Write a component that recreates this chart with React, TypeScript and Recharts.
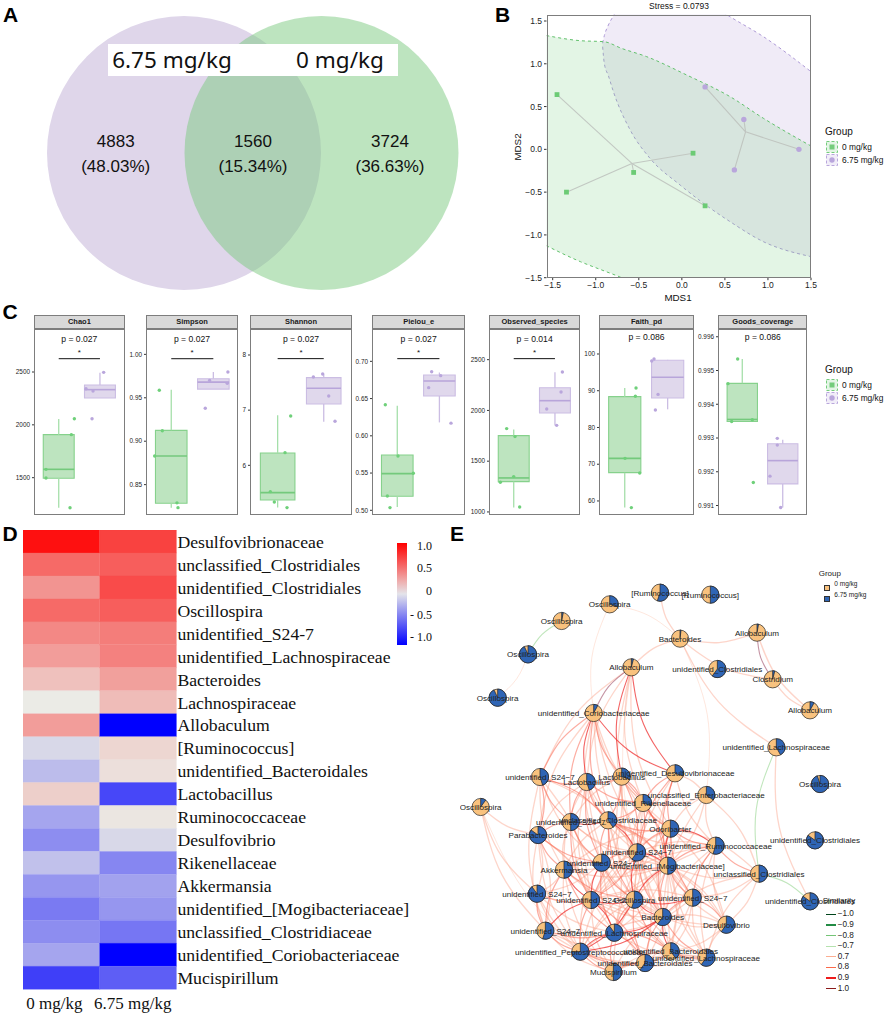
import React from "react";
import {
  ScatterChart, Scatter, ComposedChart, Area, BarChart, Bar, Cell, XAxis, YAxis,
  ReferenceArea, ReferenceLine,
} from "recharts";

const SANS = '"Liberation Sans", Arial, sans-serif';
const SERIF = '"Liberation Serif", serif';
const GREEN = "#74cc7c";
const PURPLE = "#b9a6dc";

/* ---------- A: Venn ---------- */
const vennCircles = [
  { x: 184, y: 153, r: 137, fill: "#dfd6ea", opacity: 1 },
  { x: 321.5, y: 153, r: 137, fill: "#7bc97f", opacity: 0.5 },
];
const vennCounts = ["4883", "1560", "3724"];
const vennShares = ["(48.03%)", "(15.34%)", "(36.63%)"];

/* ---------- B: NMDS ---------- */
const nmdsGroup0 = [
  { x: -1.45, y: 0.64 }, { x: -1.34, y: -0.5 }, { x: -0.56, y: -0.27 }, { x: 0.13, y: -0.045 }, { x: 0.27, y: -0.66 },
];
const nmdsGroup675 = [
  { x: 0.27, y: 0.73 }, { x: 0.72, y: 0.35 }, { x: 1.36, y: 0.0 }, { x: 0.61, y: -0.24 },
];
const centroid0 = { x: -0.58, y: -0.165 };
const centroid675 = { x: 0.74, y: 0.205 };
const ellipse0 = [
  { x: -1.574, band: [-1.126, 1.33] }, { x: -1.18, band: [-1.312, 1.27] }, { x: -0.904, band: [-1.42, 1.258] },
  { x: -0.7, band: [-1.5, 1.18] }, { x: -0.408, band: [-1.65, 1.083] }, { x: 0.056, band: [-1.9, 0.869] },
  { x: 0.56, band: [-2.1, 0.616] }, { x: 0.947, band: [-2.2, 0.363] }, { x: 1.5, band: [-2.4, 0.039] },
];
const ellipse675 = [
  { x: -0.92, band: [1.2, 1.24] }, { x: -0.9, band: [1.0, 1.33] }, { x: -0.853, band: [0.86, 1.453] },
  { x: -0.795, band: [0.674, 1.56] }, { x: -0.6, band: [0.226, 1.85] }, { x: -0.37, band: [-0.105, 1.95] },
  { x: -0.02, band: [-0.417, 1.9] }, { x: 0.25, band: [-0.63, 1.75] }, { x: 0.56, band: [-0.845, 1.55] },
  { x: 0.947, band: [-1.079, 1.317] }, { x: 1.5, band: [-1.254, 0.908] },
];
const nmdsTicks = [-1.5, -1, -0.5, 0, 0.5, 1, 1.5];

/* ---------- C: alpha diversity boxes ---------- */
// box = [lower whisker, q1, median, q3, upper whisker]
const chao1Box0 = [1216, 1494, 1579, 1907, 2055];
const chao1Box1 = [2254, 2254, 2333, 2377, 2494];
const chao1Pts0 = [[1.379, 2058], [1.306, 1907], [0.691, 1579], [0.691, 1497], [1.274, 1216]];
const chao1Pts1 = [[2.09, 2497], [1.662, 2342], [1.832, 2320], [1.808, 2058]];
const simpsonBox0 = [0.8235, 0.8285, 0.883, 0.9125, 0.9593];
const simpsonBox1 = [0.96, 0.96, 0.968, 0.972, 0.9797];
const simpsonPts0 = [[0.716, 0.9586], [0.788, 0.912], [0.606, 0.883], [1.136, 0.829], [1.16, 0.8235]];
const simpsonPts1 = [[2.346, 0.9797], [1.911, 0.97], [2.33, 0.9666], [1.808, 0.938]];
const shannonBox0 = [5.233, 5.372, 5.505, 6.224, 6.906];
const shannonBox1 = [6.79, 7.112, 7.396, 7.589, 7.65];
const shannonPts0 = [[1.283, 6.894], [1.16, 6.23], [0.841, 5.523], [0.928, 5.335], [1.203, 5.233]];
const shannonPts1 = [[1.977, 7.656], [1.775, 7.6], [2.108, 7.257], [2.245, 6.798]];
const pielouBox0 = [0.5045, 0.5188, 0.5492, 0.5743, 0.6405];
const pielouBox1 = [0.618, 0.6535, 0.6736, 0.6817, 0.685];
const pielouPts0 = [[0.716, 0.6418], [1.017, 0.5729], [1.381, 0.5497], [0.764, 0.5192], [0.827, 0.5036]];
const pielouPts1 = [[1.816, 0.686], [2.03, 0.6808], [1.745, 0.6647], [2.275, 0.617]];
const observedBox0 = [1043, 1299, 1335, 1752, 1811];
const observedBox1 = [1853, 1975, 2096, 2224, 2375];
const observedPts0 = [[0.829, 1821], [1.031, 1742], [0.999, 1348], [0.675, 1292], [1.144, 1049]];
const observedPts1 = [[2.18, 2379], [2.148, 2182], [1.8, 2014], [2.042, 1853]];
const faithBox0 = [58.2, 67.7, 71.6, 88.39, 90.75];
const faithBox1 = [84.94, 88.03, 93.65, 98.28, 98.4];
const faithPts0 = [[1.263, 90.75], [1.248, 88.48], [1.007, 71.6], [1.349, 67.6], [1.154, 58.2]];
const faithPts1 = [[1.683, 98.64], [1.629, 98.1], [1.776, 89.0], [1.714, 84.76]];
const goodsBox0 = [0.99349, 0.99349, 0.99355, 0.99462, 0.99534];
const goodsBox1 = [0.99094, 0.99164, 0.99233, 0.99283, 0.99295];
const goodsPts0 = [[0.886, 0.99534], [0.647, 0.99461], [1.248, 0.99354], [0.738, 0.99349], [1.273, 0.99168]];
const goodsPts1 = [[1.866, 0.99299], [1.866, 0.99279], [1.685, 0.99187], [1.949, 0.99094]];

const boxPanels = [
  { title: "Chao1", l: 34, r: 124.7, dom: [1144, 2907], ticks: [1500, 2000, 2500], dec: 0, p: "p = 0.027", star: 2626, b0: chao1Box0, b1: chao1Box1, p0: chao1Pts0, p1: chao1Pts1 },
  { title: "Simpson", l: 145.7, r: 238.3, dom: [0.8147, 1.0292], ticks: [0.85, 0.9, 0.95, 1], dec: 2, p: "p = 0.027", star: 0.995, b0: simpsonBox0, b1: simpsonBox1, p0: simpsonPts0, p1: simpsonPts1 },
  { title: "Shannon", l: 250.3, r: 351.7, dom: [5.094, 8.471], ticks: [6, 7, 8], dec: 0, p: "p = 0.027", star: 7.934, b0: shannonBox0, b1: shannonBox1, p0: shannonPts0, p1: shannonPts1 },
  { title: "Pielou_e", l: 372.3, r: 465, dom: [0.4933, 0.7434], ticks: [0.5, 0.55, 0.6, 0.65, 0.7], dec: 2, p: "p = 0.027", star: 0.7036, b0: pielouBox0, b1: pielouBox1, p0: pielouPts0, p1: pielouPts1 },
  { title: "Observed_species", l: 489.3, r: 580, dom: [967, 2802], ticks: [1000, 1500, 2000, 2500], dec: 0, p: "p = 0.014", star: 2510, b0: observedBox0, b1: observedBox1, p0: observedPts0, p1: observedPts1 },
  { title: "Faith_pd", l: 599.3, r: 693.7, dom: [56.1, 106.8], ticks: [60, 70, 80, 90, 100], dec: 0, p: "p = 0.086", star: null, b0: faithBox0, b1: faithBox1, p0: faithPts0, p1: faithPts1 },
  { title: "Goods_coverage", l: 718.3, r: 807.3, dom: [0.99071, 0.99623], ticks: [0.991, 0.992, 0.993, 0.994, 0.995, 0.996], dec: 3, p: "p = 0.086", star: null, b0: goodsBox0, b1: goodsBox1, p0: goodsPts0, p1: goodsPts1 },
];

/* ---------- D: heatmap ---------- */
const taxa = [
  "Desulfovibrionaceae", "unclassified_Clostridiales", "unidentified_Clostridiales", "Oscillospira",
  "unidentified_S24-7", "unidentified_Lachnospiraceae", "Bacteroides", "Lachnospiraceae", "Allobaculum",
  "[Ruminococcus]", "unidentified_Bacteroidales", "Lactobacillus", "Ruminococcaceae", "Desulfovibrio",
  "Rikenellaceae", "Akkermansia", "unidentified_[Mogibacteriaceae]", "unclassified_Clostridiaceae",
  "unidentified_Coriobacteriaceae", "Mucispirillum",
];
const heat0 = [0.93, 0.55, 0.37, 0.55, 0.42, 0.33, 0.18, 0, 0.33, -0.08, -0.2, 0.12, -0.3, -0.4, -0.18, -0.36, -0.48, -0.4, -0.3, -0.73];
const heat675 = [0.72, 0.6, 0.68, 0.6, 0.47, 0.45, 0.32, 0.2, -1, 0.09, 0.05, -0.7, 0.02, -0.08, -0.43, -0.31, -0.36, -0.5, -1, -0.6];
const heatRows = taxa.map((name) => ({ name, a: 1, b: 1 }));
const heatColumnLabels = ["0 mg/kg", "6.75 mg/kg"];
const heatScaleLabels = ["1.0", "0.5", "0", "- 0.5", "- 1.0"];
const heatColor = (v: number) => {
  const t = Math.abs(v);
  const c = (a: number, b: number) => Math.round(a + (b - a) * t);
  return v >= 0 ? `rgb(${c(235, 255)},${c(235, 0)},${c(230, 0)})` : `rgb(${c(235, 0)},${c(235, 0)},${c(230, 255)})`;
};

/* ---------- E: network ---------- */
// label, x, y, share of the 6.75 mg/kg slice (position in a 1278 x 1368 grid)
const nodes: [string, number, number, number][] = [
  ["[Ruminococcus]", 600, 98, 0.55], ["[Ruminococcus]", 751, 104, 0.5], ["Oscillospira", 449, 133, 0.3],
  ["Oscillospira", 305, 183, 0.03], ["Bacteroides", 660, 236, 0.02], ["Allobaculum", 891, 218, 0.03],
  ["Oscillospira", 204, 283, 0.93], ["Allobaculum", 514, 322, 0.04], ["unidentified_Clostridiales", 772, 327, 0.6],
  ["Clostridium", 938, 358, 0.04], ["Oscillospira", 113, 413, 0.93], ["unidentified_Coriobacteriaceae", 401, 459, 0.08],
  ["Allobaculum", 1050, 451, 0.08], ["unidentified_Lachnospiraceae", 949, 562, 0.42], ["unidentified_S24\u22127", 240, 651, 0.45],
  ["Lactobacillus", 380, 666, 0.45], ["Lactobacillus", 485, 650, 0.3], ["unidentified_Desulfovibrionaceae", 645, 640, 0.3],
  ["unclassified_Enterobacteriaceae", 739, 705, 0.35], ["Oscillospira", 62, 741, 0.1], ["unidentified_Rikenellaceae", 549, 729, 0.3],
  ["unidentified_S24\u22127", 332, 786, 0.5], ["unclassified_Clostridiaceae", 444, 781, 0.4], ["Odoribacter", 631, 806, 0.5],
  ["Parabacteroides", 234, 825, 0.85], ["unidentified_Ruminococcaceae", 767, 857, 0.55], ["unidentified_S24\u22127", 531, 877, 0.6],
  ["unidentified_S24\u22127", 425, 908, 0.75], ["unidentified_[Mogibacteriaceae]", 623, 917, 0.5], ["Akkermansia", 312, 929, 0.5],
  ["unclassified_Clostridiales", 897, 941, 0.5], ["unidentified_S24\u22127", 231, 1001, 0.9], ["unidentified_S24\u22127", 393, 1020, 0.5],
  ["Oscillospira", 523, 1019, 0.55], ["unidentified_S24\u22127", 698, 1013, 0.5], ["Bacteroides", 608, 1071, 0.6],
  ["Desulfovibrio", 799, 1094, 0.6], ["unidentified_S24\u22127", 256, 1112, 0.55], ["unidentified_Lachnospiraceae", 463, 1118, 0.9],
  ["unidentified_Peptostreptococcaceae", 361, 1175, 0.75], ["unidentified_Bacteroidales", 632, 1174, 0.4], ["unidentified_Lachnospiraceae", 739, 1193, 0.6],
  ["unidentified_Bacteroidales", 555, 1209, 0.6], ["Mucispirillum", 460, 1236, 0.5], ["Oscillospira", 1080, 672, 0.95],
  ["unidentified_Clostridiales", 1065, 841, 0.85], ["unidentified_Clostridiales", 1050, 1024, 0.85],
];
// similarity links as "from-to" node numbers (1-based), by strength
const linksStrong = "8-18 12-18 33-34 34-35 28-33 33-39 23-27 27-34 34-36 39-40 40-34 40-36 33-38 30-33 22-23 24-29 29-34 36-41 39-36 27-29 8-17 26-24 12-16";
const linksMid = "15-16 15-22 15-25 16-17 16-21 17-21 16-23 21-23 21-24 21-27 22-25 22-28 23-24 23-28 23-29 24-26 24-27 26-29 26-31 26-35 27-28 25-30 25-28 28-30 28-29 30-38 30-39 30-34 32-33 32-38 33-40 33-43 34-39 34-41 34-43 35-36 35-37 35-29 36-42 36-43 38-40 38-39 39-41 39-43 39-44 40-44 40-43 41-42 41-43 43-44 29-36 27-33 27-36 24-35 24-36 22-33 23-33 23-34 28-34 28-39 15-23 16-22 16-28 17-23 17-27 17-29 18-21 18-24 18-29 18-27 21-29 12-15 12-22 12-23 12-17";
const linksFaint = "12-21 12-24 12-27 12-29 12-28 12-25 8-15 8-16 8-21 8-24 8-27 5-1 5-8 5-6 5-10 5-14 6-13 10-13 14-47 20-25 20-32 20-38 19-26 19-24 19-21 19-29 19-18 19-31 31-37 31-35 31-29 31-24 31-42 31-36 37-42 37-41 37-36 37-29 37-24 26-37 26-36 26-42 32-25 32-30 32-28 32-39 32-40 32-44 38-44 38-43 38-41 38-25 25-33 25-38 25-39 25-40 30-40 30-44 30-36 30-29 30-27 28-36 28-41 28-43 28-40 22-30 22-34 22-27 22-29 22-39 15-30 15-28 15-27 15-33 15-38 16-25 16-27 16-29 16-30 16-33 16-34 17-22 17-24 17-33 17-34 17-36 18-26 18-34 18-36 21-28 21-33 21-34 21-36 23-26 23-30 23-35 23-36 23-39 24-30 24-33 24-34 24-39 24-41 24-42 26-27 26-33 26-34 26-41 27-35 27-37 27-39 27-40 27-41 27-43 29-33 29-37 29-39 29-40 29-41 29-42 29-43 33-35 33-36 33-41 33-44 34-37 34-40 34-42 34-44 35-39 35-41 35-42 35-43 36-40 36-44 36-37 39-42 40-42 41-44 42-43 42-44 19-36";
const linksDark = "8-12 6-10";
const linksNeg = "4-7 14-31 31-47";
const linksPale = "7-11 3-12 3-5 8-36 5-19 20-44";
const similarityLevels = ["\u22121.0", "\u22120.9", "\u22120.8", "\u22120.7", "0.7", "0.8", "0.9", "1.0"];
const similarityColors = ["#00441b", "#238b45", "#74c476", "#b5e2ae", "#fcae91", "#fb6a4a", "#ee1c1c", "#8b1a1a"];

const linkPoints = (pair: string) => {
  const [a, b] = pair.split("-").map(Number);
  const A = nodes[a - 1];
  const B = nodes[b - 1];
  const bend = (a * b) % 2 === 0 ? 0.09 : -0.09;
  const mid = { x: (A[1] + B[1]) / 2 - (B[2] - A[2]) * bend, y: (A[2] + B[2]) / 2 + (B[1] - A[1]) * bend };
  return [{ x: A[1], y: A[2] }, mid, { x: B[1], y: B[2] }];
};
const linkGroups = [
  { pairs: linksPale, stroke: "#fcbba1", w: 1, o: 0.35 },
  { pairs: linksFaint, stroke: "#fb9a80", w: 1.3, o: 0.42 },
  { pairs: linksNeg, stroke: "#a5dc9f", w: 1.1, o: 0.7 },
  { pairs: linksMid, stroke: "#fa6a55", w: 1.2, o: 0.55 },
  { pairs: linksDark, stroke: "#8b2a4a", w: 1.1, o: 0.5 },
  { pairs: linksStrong, stroke: "#ee2a2a", w: 1.1, o: 0.72 },
];

/* ---------- helpers ---------- */
const Txt = ({ x, y, size, children, anchor = "middle", font = SANS, color = "#111", rotate = 0, weight = 400 }: any) => (
  <div
    style={{
      position: "absolute", left: x, top: y, fontSize: size, fontFamily: font, color, fontWeight: weight,
      whiteSpace: "nowrap", lineHeight: 1,
      transform: `translate(${anchor === "middle" ? "-50%" : anchor === "end" ? "-100%" : "0"},-50%) rotate(${rotate}deg)`,
    }}
  >
    {children}
  </div>
);
const Frame = ({ l, t, r, b, bg = "none" }: any) => (
  <div style={{ position: "absolute", left: l, top: t, width: r - l, height: b - t, boxSizing: "border-box", border: "1.2px solid #7d7d7d", background: bg, pointerEvents: "none" }} />
);
const Box = ({ l, t, w, h, children }: any) => (
  <div style={{ position: "absolute", left: l, top: t, width: w, height: h }}>{children}</div>
);
const Dot = (color: string, r = 1.7) => (p: any) => <circle cx={p.cx} cy={p.cy} r={r} fill={color} />;
const Square = (color: string, s = 2.4) => (p: any) => <rect x={p.cx - s} y={p.cy - s} width={2 * s} height={2 * s} fill={color} />;
const NoMark = () => <g />;
const minusFmt = (d: number) => (v: number) => v.toFixed(d).replace("-", "\u2212");

const PieNode = (p: any) => {
  const f = p.payload.blue;
  const r = 8.6;
  const a = 2 * Math.PI * f;
  const ex = p.cx + r * Math.sin(a);
  const ey = p.cy - r * Math.cos(a);
  const big = f > 0.5 ? 1 : 0;
  return (
    <g stroke="#222" strokeWidth={0.7}>
      <circle cx={p.cx} cy={p.cy} r={r} fill="#f9c27e" />
      <path d={`M${p.cx},${p.cy}L${p.cx},${p.cy - r}A${r},${r} 0 ${big} 1 ${ex},${ey}Z`} fill="#2f65b5" />
    </g>
  );
};
const NodeLabel = (p: any) => (
  <text x={p.cx} y={p.cy} dy={3} textAnchor="middle" fontSize={8.1} fontFamily={SANS} fill="#222">
    {p.payload.label}
  </text>
);
const VennCircle = (p: any) => (
  <circle cx={p.cx} cy={p.cy} r={p.payload.r} fill={p.payload.fill} fillOpacity={p.payload.opacity} />
);

const LegendKey = ({ x, y, color, square }: any) => (
  <svg style={{ position: "absolute", left: x, top: y }} width={12} height={12}>
    <rect x={0.5} y={0.5} width={11} height={11} fill={color} fillOpacity={0.2} stroke={color} strokeDasharray="3 2" />
    {square ? <rect x={3.5} y={3.5} width={5} height={5} fill={color} /> : <circle cx={6} cy={6} r={2.7} fill={color} />}
  </svg>
);
const GroupLegend = ({ top }: any) => (
  <>
    <Txt x={825} y={top} size={10} anchor="start">Group</Txt>
    <LegendKey x={826} y={top + 9} color={GREEN} square />
    <LegendKey x={826} y={top + 22} color={PURPLE} />
    <Txt x={842} y={top + 15} size={8.4} anchor="start">0 mg/kg</Txt>
    <Txt x={842} y={top + 27.5} size={8.4} anchor="start">6.75 mg/kg</Txt>
  </>
);

/* ---------- panels ---------- */
const PanelA = () => (
  <Box l={0} t={0} w={490} h={300}>
    <ScatterChart width={490} height={300} margin={{ top: 0, right: 0, bottom: 0, left: 0 }}>
      <XAxis type="number" dataKey="x" domain={[0, 490]} hide />
      <YAxis type="number" dataKey="y" domain={[0, 300]} reversed hide />
      {vennCircles.map((c, i) => (
        <Scatter key={i} data={[c]} shape={VennCircle} isAnimationActive={false} />
      ))}
    </ScatterChart>
  </Box>
);

const PanelB = () => (
  <Box l={500} t={0} w={325} h={300}>
    <ComposedChart width={325} height={300} margin={{ top: 14.5, right: 14, bottom: 0, left: 0 }}>
      <XAxis type="number" dataKey="x" domain={[-1.572, 1.5]} ticks={nmdsTicks} allowDataOverflow
        height={22.3} tickSize={2.5} tickFormatter={minusFmt(1)} axisLine={false} stroke="#333"
        tick={{ fontSize: 8.5, fontFamily: SANS, fill: "#222" }} interval={0} />
      <YAxis type="number" dataKey="y" domain={[-1.5, 1.576]} ticks={nmdsTicks} allowDataOverflow
        width={46.5} tickSize={2.5} tickFormatter={minusFmt(1)} axisLine={false} stroke="#333"
        tick={{ fontSize: 8.5, fontFamily: SANS, fill: "#222" }} interval={0} />
      <Area data={ellipse675} dataKey="band" type="monotone" fill={PURPLE} fillOpacity={0.22} stroke="#ad99d6" strokeDasharray="3 3" strokeWidth={1} dot={false} activeDot={false} isAnimationActive={false} />
      <Area data={ellipse0} dataKey="band" type="monotone" fill={GREEN} fillOpacity={0.2} stroke="#62c06c" strokeDasharray="3 3" strokeWidth={1} dot={false} activeDot={false} isAnimationActive={false} />
      {nmdsGroup0.map((p, i) => (
        <Scatter key={`a${i}`} data={[p, centroid0]} line={{ stroke: "#c2c8c2", strokeWidth: 1.1 }} shape={NoMark} isAnimationActive={false} />
      ))}
      {nmdsGroup675.map((p, i) => (
        <Scatter key={`b${i}`} data={[p, centroid675]} line={{ stroke: "#c0c5c0", strokeWidth: 1.1 }} shape={NoMark} isAnimationActive={false} />
      ))}
      <Scatter data={nmdsGroup0} shape={Square("#6ccb75")} isAnimationActive={false} />
      <Scatter data={nmdsGroup675} shape={Dot(PURPLE, 2.7)} isAnimationActive={false} />
    </ComposedChart>
  </Box>
);

const boxMarks = (key: string, cx: number, box: number[], fill: string, stroke: string, med: string, whisk: string) => {
  const [lo, q1, m, q3, hi] = box;
  return [
    <ReferenceLine key={key + "lo"} segment={[{ x: cx, y: lo }, { x: cx, y: q1 }]} stroke={whisk} strokeWidth={1.3} />,
    <ReferenceLine key={key + "hi"} segment={[{ x: cx, y: q3 }, { x: cx, y: hi }]} stroke={whisk} strokeWidth={1.3} />,
    <ReferenceArea key={key + "bx"} x1={cx - 0.375} x2={cx + 0.375} y1={q1} y2={q3} fill={fill} fillOpacity={1} stroke={stroke} strokeWidth={1.1} />,
    <ReferenceLine key={key + "md"} segment={[{ x: cx - 0.375, y: m }, { x: cx + 0.375, y: m }]} stroke={med} strokeWidth={1.6} />,
  ];
};
const toPts = (rows: number[][]) => rows.map(([x, y]) => ({ x, y }));
const PLOT_TOP = 328.7;
const PLOT_BOTTOM = 515;

const BoxPanel = ({ d }: any) => {
  const w = d.r - d.l;
  const h = PLOT_BOTTOM - PLOT_TOP;
  return (
    <>
      <Frame l={d.l} t={315} r={d.r} b={PLOT_TOP + 0.6} bg="#d9d9d9" />
      <Txt x={(d.l + d.r) / 2} y={322} size={7.5} color="#1a1a1a" weight={700}>{d.title}</Txt>
      <Box l={d.l - 32} t={PLOT_TOP} w={w + 32} h={h}>
        <ScatterChart width={w + 32} height={h} margin={{ top: 0, right: 0, bottom: 0, left: 0 }}>
          <XAxis type="number" dataKey="x" domain={[0.4, 2.6]} hide allowDataOverflow />
          <YAxis type="number" dataKey="y" domain={d.dom} ticks={d.ticks} width={32} tickSize={2} axisLine={false} interval={0}
            allowDataOverflow tickFormatter={minusFmt(d.dec)} stroke="#333"
            tick={{ fontSize: 6.4, fontFamily: SANS, fill: "#222" }} />
          {boxMarks("g", 1, d.b0, "#bde4bf", "#86d18c", "#74c97c", "#a5dfaa")}
          {boxMarks("p", 2, d.b1, "#e0d8ec", "#cbbde3", "#b8a5da", "#cbbde3")}
          {d.star !== null && (
            <ReferenceLine segment={[{ x: 1, y: d.star }, { x: 2, y: d.star }]} stroke="#111" strokeWidth={1} />
          )}
          <Scatter data={toPts(d.p0)} shape={Dot("#6fd07a")} isAnimationActive={false} />
          <Scatter data={toPts(d.p1)} shape={Dot(PURPLE)} isAnimationActive={false} />
        </ScatterChart>
      </Box>
      <Frame l={d.l} t={PLOT_TOP} r={d.r} b={PLOT_BOTTOM} />
      <Txt x={(d.l + d.r) / 2} y={d.star !== null ? 338.7 : 337} size={8.6}>{d.p}</Txt>
      {d.star !== null && <Txt x={(d.l + d.r) / 2} y={352.7} size={8}>*</Txt>}
    </>
  );
};

const PanelD = () => (
  <Box l={23.3} t={530} w={413} h={486}>
    <BarChart width={413} height={486} layout="vertical" data={heatRows} barCategoryGap={0} margin={{ top: 0, right: 0, bottom: 0, left: 0 }}>
      <XAxis type="number" domain={[0, 2]} ticks={[0.41, 1.43]} height={26.7} axisLine={false} tickLine={false} interval={0}
        tickFormatter={(v: number) => heatColumnLabels[v < 1 ? 0 : 1]}
        tick={{ fontSize: 17, fontFamily: SERIF, fill: "#111" }} tickMargin={2} />
      <YAxis type="category" dataKey="name" orientation="right" width={259.6} axisLine={false} tickLine={false} interval={0}
        tick={{ fontSize: 17.7, fontFamily: SERIF, fill: "#111" }} tickMargin={1} tickSize={0} />
      <Bar dataKey="a" stackId="h" isAnimationActive={false}>
        {heat0.map((v, i) => <Cell key={i} fill={heatColor(v)} stroke={heatColor(v)} strokeWidth={0.3} />)}
      </Bar>
      <Bar dataKey="b" stackId="h" isAnimationActive={false}>
        {heat675.map((v, i) => <Cell key={i} fill={heatColor(v)} stroke={heatColor(v)} strokeWidth={0.3} />)}
      </Bar>
    </BarChart>
  </Box>
);

const PanelE = () => (
  <Box l={460} t={560} w={426} h={456}>
    <ScatterChart width={426} height={456} margin={{ top: 0, right: 0, bottom: 0, left: 0 }}>
      <XAxis type="number" dataKey="x" domain={[0, 1278]} hide />
      <YAxis type="number" dataKey="y" domain={[0, 1368]} reversed hide />
      {linkGroups.flatMap((g, gi) =>
        g.pairs.split(" ").map((pair) => (
          <Scatter key={`${gi}-${pair}`} data={linkPoints(pair)} shape={NoMark} lineType="joint" lineJointType="natural"
            line={{ stroke: g.stroke, strokeWidth: g.w, strokeOpacity: g.o }} isAnimationActive={false} />
        ))
      )}
      <Scatter data={nodes.map(([label, x, y, blue]) => ({ label, x, y, blue }))} shape={PieNode} isAnimationActive={false} />
      <Scatter data={nodes.map(([label, x, y, blue]) => ({ label, x, y, blue }))} shape={NodeLabel} isAnimationActive={false} />
    </ScatterChart>
  </Box>
);

export default function App() {
  return (
    <div style={{ position: "absolute", left: 0, top: 0, width: 886, height: 1016, overflow: "hidden", background: "#fff" }}>
      {/* A */}
      <PanelA />
      <div style={{ position: "absolute", left: 108.3, top: 43.7, width: 289.4, height: 32.3, background: "#fff" }} />
      <Txt x={172} y={60} size={22.5} font='"Noto Sans", sans-serif'>6.75 mg/kg</Txt>
      <Txt x={340} y={60} size={22.5} font='"Noto Sans", sans-serif'>0 mg/kg</Txt>
      {[115.7, 253, 390].map((x, i) => (
        <React.Fragment key={i}>
          <Txt x={x} y={140.7} size={17}>{vennCounts[i]}</Txt>
          <Txt x={x} y={166} size={17}>{vennShares[i]}</Txt>
        </React.Fragment>
      ))}
      <Txt x={3} y={14} size={21} weight={700} anchor="start" color="#000">A</Txt>

      {/* B */}
      <PanelB />
      <Frame l={546.5} t={14.5} r={811} b={277.7} />
      <Txt x={495} y={14} size={21} weight={700} anchor="start" color="#000">B</Txt>
      <Txt x={679} y={5.5} size={8.5}>Stress = 0.0793</Txt>
      <Txt x={678} y={297.7} size={9.8}>MDS1</Txt>
      <Txt x={517.7} y={146.7} size={9.8} rotate={-90}>MDS2</Txt>
      <GroupLegend top={132} />

      {/* C */}
      <Txt x={2.5} y={311} size={21} weight={700} anchor="start" color="#000">C</Txt>
      {boxPanels.map((d) => <BoxPanel key={d.title} d={d} />)}
      <GroupLegend top={370} />

      {/* D */}
      <Txt x={2.5} y={533} size={21} weight={700} anchor="start" color="#000">D</Txt>
      <PanelD />
      <div style={{ position: "absolute", left: 397.3, top: 542.7, width: 9.4, height: 102, background: "linear-gradient(#ff0000,#eeb0b0 38%,#e4e4ea 50%,#9090f0 68%,#0000ff)" }} />
      {heatScaleLabels.map((t, i) => (
        <Txt key={t} x={432} y={[545.7, 568.3, 591.3, 614.7, 637.3][i]} size={12} font={SERIF} anchor="end">{t}</Txt>
      ))}

      {/* E */}
      <PanelE />
      <Txt x={450} y={533} size={21} weight={700} anchor="start" color="#000">E</Txt>
      <Txt x={818.7} y={574} size={8} anchor="start" color="#222">Group</Txt>
      <div style={{ position: "absolute", left: 824, top: 585, width: 4, height: 4, background: "#f9c27e", border: "0.6px solid #333" }} />
      <div style={{ position: "absolute", left: 824, top: 596, width: 4, height: 4, background: "#2f65b5", border: "0.6px solid #333" }} />
      <Txt x={834.3} y={584} size={6.5} anchor="start" color="#222">0 mg/kg</Txt>
      <Txt x={834.3} y={595} size={6.5} anchor="start" color="#222">6.75 mg/kg</Txt>
      <Txt x={822.7} y={901} size={8} anchor="start" color="#222">Similarity</Txt>
      {similarityLevels.map((t, i) => {
        const y = [914.3, 925, 935.7, 946.3, 956.7, 967.3, 978, 988.7][i];
        return (
          <React.Fragment key={t}>
            <div style={{ position: "absolute", left: 825.7, top: y - 0.7, width: 10, height: 1.4, background: similarityColors[i] }} />
            <Txt x={837.7} y={y} size={8.2} anchor="start" color="#222">{t}</Txt>
          </React.Fragment>
        );
      })}
    </div>
  );
}
